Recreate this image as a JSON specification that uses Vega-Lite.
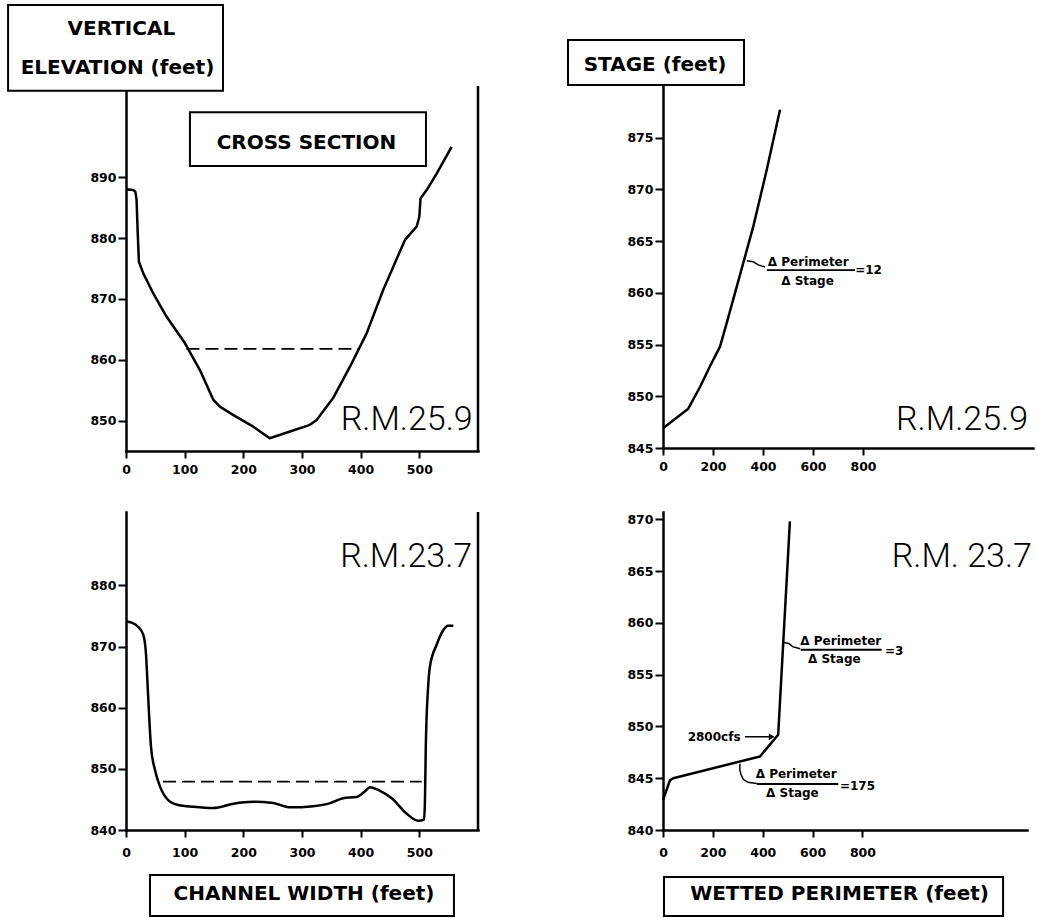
{
  "$schema": "https://vega.github.io/schema/vega-lite/v6.json",
  "background": "white",
  "autosize": {"type": "pad"},
  "padding": {"left": 7, "top": 4, "right": 2, "bottom": 0},
  "config": {
    "view": {"stroke": null},
    "mark": {"color": "black"},
    "axis": {
      "domainColor": "black", "domainWidth": 2.5, "domainCap": "square",
      "tickColor": "black", "tickWidth": 2, "tickSize": 7,
      "labelColor": "black", "labelFont": "DejaVu Sans", "labelFontWeight": "bold", "labelFontSize": 12.5,
      "labelFlush": false, "labelOverlap": false, "grid": false, "zindex": 0
    },
    "axisY": {"tickSize": 8, "labelPadding": 2}
  },
  "datasets": {
    "section_rm259": [
      {"width_ft": 0, "elev_ft": 887.9}, {"width_ft": 4, "elev_ft": 888.0}, {"width_ft": 12.5, "elev_ft": 887.9},
      {"width_ft": 16, "elev_ft": 887.6}, {"width_ft": 18, "elev_ft": 886.3}, {"width_ft": 20, "elev_ft": 880.8},
      {"width_ft": 22, "elev_ft": 876.1}, {"width_ft": 29.5, "elev_ft": 874.2}, {"width_ft": 46.5, "elev_ft": 870.9},
      {"width_ft": 69, "elev_ft": 867.1}, {"width_ft": 100.6, "elev_ft": 862.7}, {"width_ft": 126, "elev_ft": 858.3},
      {"width_ft": 149, "elev_ft": 853.4}, {"width_ft": 160, "elev_ft": 852.3}, {"width_ft": 183, "elev_ft": 850.9},
      {"width_ft": 217, "elev_ft": 849.0}, {"width_ft": 245, "elev_ft": 847.1}, {"width_ft": 279.5, "elev_ft": 848.2},
      {"width_ft": 313.6, "elev_ft": 849.3}, {"width_ft": 325, "elev_ft": 850.1}, {"width_ft": 353, "elev_ft": 853.7},
      {"width_ft": 382, "elev_ft": 858.9}, {"width_ft": 410, "elev_ft": 864.3}, {"width_ft": 438.5, "elev_ft": 871.5},
      {"width_ft": 455.6, "elev_ft": 875.3}, {"width_ft": 475.5, "elev_ft": 879.7}, {"width_ft": 495.5, "elev_ft": 881.9},
      {"width_ft": 500, "elev_ft": 883.5}, {"width_ft": 502, "elev_ft": 886.5}, {"width_ft": 512.5, "elev_ft": 887.9},
      {"width_ft": 529.5, "elev_ft": 890.6}, {"width_ft": 555, "elev_ft": 895.0}
    ],
    "rating_rm259": [
      {"perimeter_ft": 0, "stage_ft": 846.9}, {"perimeter_ft": 101, "stage_ft": 848.8}, {"perimeter_ft": 148, "stage_ft": 850.9},
      {"perimeter_ft": 188, "stage_ft": 852.9}, {"perimeter_ft": 228, "stage_ft": 854.8}, {"perimeter_ft": 255, "stage_ft": 857.1},
      {"perimeter_ft": 295, "stage_ft": 860.6}, {"perimeter_ft": 361, "stage_ft": 866.4}, {"perimeter_ft": 415, "stage_ft": 871.9},
      {"perimeter_ft": 468, "stage_ft": 877.7}
    ],
    "section_rm237": [
      {"width_ft": 0, "elev_ft": 874.1}, {"width_ft": 9.7, "elev_ft": 873.9}, {"width_ft": 21, "elev_ft": 873.2},
      {"width_ft": 29.5, "elev_ft": 871.9}, {"width_ft": 34, "elev_ft": 868.9}, {"width_ft": 36.4, "elev_ft": 864.5},
      {"width_ft": 39.2, "elev_ft": 859.1}, {"width_ft": 42.6, "elev_ft": 853.6}, {"width_ft": 49.4, "elev_ft": 849.8},
      {"width_ft": 58, "elev_ft": 847.1}, {"width_ft": 72, "elev_ft": 844.9}, {"width_ft": 89, "elev_ft": 844.1},
      {"width_ft": 115, "elev_ft": 843.8}, {"width_ft": 149, "elev_ft": 843.6}, {"width_ft": 183, "elev_ft": 844.3},
      {"width_ft": 217, "elev_ft": 844.6}, {"width_ft": 251, "elev_ft": 844.4}, {"width_ft": 279.5, "elev_ft": 843.7},
      {"width_ft": 319, "elev_ft": 843.9}, {"width_ft": 348, "elev_ft": 844.4}, {"width_ft": 370, "elev_ft": 845.2},
      {"width_ft": 393, "elev_ft": 845.4}, {"width_ft": 407, "elev_ft": 846.3}, {"width_ft": 416, "elev_ft": 847.0},
      {"width_ft": 433, "elev_ft": 846.4}, {"width_ft": 453, "elev_ft": 845.2}, {"width_ft": 478, "elev_ft": 842.7},
      {"width_ft": 498, "elev_ft": 841.5}, {"width_ft": 508, "elev_ft": 841.7}, {"width_ft": 509.6, "elev_ft": 844.9},
      {"width_ft": 511, "elev_ft": 853.6}, {"width_ft": 515, "elev_ft": 863.4}, {"width_ft": 518, "elev_ft": 866.7},
      {"width_ft": 529.5, "elev_ft": 870.3}, {"width_ft": 541, "elev_ft": 872.7}, {"width_ft": 549, "elev_ft": 873.4},
      {"width_ft": 558, "elev_ft": 873.4}
    ],
    "rating_rm237": [
      {"perimeter_ft": 0, "stage_ft": 842.9}, {"perimeter_ft": 28, "stage_ft": 844.8}, {"perimeter_ft": 41, "stage_ft": 845.0},
      {"perimeter_ft": 389, "stage_ft": 847.1}, {"perimeter_ft": 462, "stage_ft": 849.2}, {"perimeter_ft": 509, "stage_ft": 869.8}
    ]
  },
  "columns": 2,
  "spacing": {"row": 61, "column": 185},
  "bounds": "flush",
  "align": "each",
  "concat": [
    {
      "width": 352,
      "height": 365,
      "encoding": {
        "x": {"field": "width_ft", "type": "quantitative", "title": null,
              "scale": {"domain": [0, 600], "nice": false, "zero": false},
              "axis": {"values": [0, 100, 200, 300, 400, 500], "labelPadding": 5}},
        "y": {"field": "elev_ft", "type": "quantitative", "title": null,
              "scale": {"domain": [845, 905], "nice": false, "zero": false},
              "axis": {"values": [850, 860, 870, 880, 890]}}
      },
      "layer": [
        {"data": {"values": [{"width_ft": 600, "elev_ft": 845, "elev_ft2": 905}]},
         "mark": {"type": "rule", "strokeWidth": 2.5},
         "encoding": {"y2": {"field": "elev_ft2"}}},
        {"data": {"name": "section_rm259"},
         "mark": {"type": "line", "strokeWidth": 2.5, "strokeJoin": "round"},
         "encoding": {"order": {"value": null}}},
        {"data": {"values": [{"width_ft": 103, "width_ft2": 396, "elev_ft": 861.8}]},
         "mark": {"type": "rule", "strokeWidth": 1.8, "strokeDash": [13, 6]},
         "encoding": {"x2": {"field": "width_ft2"}}},
        {"data": {"values": [
           {"width_ft": -201, "width_ft2": 165.3, "elev_ft": 918.3, "elev_ft2": 904.2},
           {"width_ft": 109, "width_ft2": 511.3, "elev_ft": 900.7, "elev_ft2": 891.85}]},
         "mark": {"type": "rect", "fill": "white", "stroke": "black", "strokeWidth": 2},
         "encoding": {"x2": {"field": "width_ft2"}, "y2": {"field": "elev_ft2"}}},
        {"data": {"values": [
           {"label": "VERTICAL", "width_ft": -8, "elev_ft": 914.4},
           {"label": "ELEVATION (feet)", "width_ft": -14.5, "elev_ft": 908.0},
           {"label": "CROSS  SECTION", "width_ft": 307.6, "elev_ft": 895.6}]},
         "mark": {"type": "text", "font": "DejaVu Sans", "fontWeight": "bold", "fontSize": 20, "align": "center", "baseline": "middle"},
         "encoding": {"text": {"field": "label"}}},
        {"data": {"values": [{"label": "R.M.25.9", "width_ft": 591, "elev_ft": 848.45}]},
         "mark": {"type": "text", "font": "Roboto", "fontWeight": 300, "fontSize": 34, "align": "right", "baseline": "alphabetic"},
         "encoding": {"text": {"field": "label"}}}
      ]
    },
    {
      "width": 370,
      "height": 362,
      "encoding": {
        "x": {"field": "perimeter_ft", "type": "quantitative", "title": null,
              "scale": {"domain": [0, 1480], "nice": false, "zero": false},
              "axis": {"values": [0, 200, 400, 600, 800], "labelPadding": 5}},
        "y": {"field": "stage_ft", "type": "quantitative", "title": null,
              "scale": {"domain": [845, 880], "nice": false, "zero": false},
              "axis": {"values": [845, 850, 855, 860, 865, 870, 875]}}
      },
      "layer": [
        {"data": {"name": "rating_rm259"},
         "mark": {"type": "line", "strokeWidth": 2.5, "strokeJoin": "round"},
         "encoding": {"order": {"value": null}}},
        {"data": {"values": [
           {"seg": "slope12", "perimeter_ft": 335, "stage_ft": 863.1},
           {"seg": "slope12", "perimeter_ft": 361, "stage_ft": 863.0},
           {"seg": "slope12", "perimeter_ft": 381, "stage_ft": 862.7},
           {"seg": "slope12", "perimeter_ft": 408, "stage_ft": 862.5}]},
         "mark": {"type": "line", "strokeWidth": 1.5},
         "encoding": {"detail": {"field": "seg"}, "order": {"value": null}}},
        {"data": {"values": [{"perimeter_ft": 415, "perimeter_ft2": 768, "stage_ft": 862.2}]},
         "mark": {"type": "rule", "strokeWidth": 1.8},
         "encoding": {"x2": {"field": "perimeter_ft2"}}},
        {"data": {"values": [
           {"label": "Δ Perimeter", "perimeter_ft": 581, "stage_ft": 863.0},
           {"label": "Δ Stage", "perimeter_ft": 578, "stage_ft": 861.15},
           {"label": "=12", "perimeter_ft": 822, "stage_ft": 862.2}]},
         "mark": {"type": "text", "font": "DejaVu Sans", "fontWeight": "bold", "fontSize": 12, "align": "center", "baseline": "middle"},
         "encoding": {"text": {"field": "label"}}},
        {"data": {"values": [{"perimeter_ft": -380, "perimeter_ft2": 324, "stage_ft": 884.45, "stage_ft2": 880.1}]},
         "mark": {"type": "rect", "fill": "white", "stroke": "black", "strokeWidth": 2},
         "encoding": {"x2": {"field": "perimeter_ft2"}, "y2": {"field": "stage_ft2"}}},
        {"data": {"values": [{"label": "STAGE (feet)", "perimeter_ft": -32, "stage_ft": 882.0}]},
         "mark": {"type": "text", "font": "DejaVu Sans", "fontWeight": "bold", "fontSize": 20, "align": "center", "baseline": "middle"},
         "encoding": {"text": {"field": "label"}}},
        {"data": {"values": [{"label": "R.M.25.9", "perimeter_ft": 1460, "stage_ft": 846.74}]},
         "mark": {"type": "text", "font": "Roboto", "fontWeight": 300, "fontSize": 34, "align": "right", "baseline": "alphabetic"},
         "encoding": {"text": {"field": "label"}}}
      ]
    },
    {
      "width": 352,
      "height": 318,
      "encoding": {
        "x": {"field": "width_ft", "type": "quantitative", "title": null,
              "scale": {"domain": [0, 600], "nice": false, "zero": false},
              "axis": {"values": [0, 100, 200, 300, 400, 500], "labelPadding": 9}},
        "y": {"field": "elev_ft", "type": "quantitative", "title": null,
              "scale": {"domain": [840, 892], "nice": false, "zero": false},
              "axis": {"values": [840, 850, 860, 870, 880]}}
      },
      "layer": [
        {"data": {"values": [{"width_ft": 600, "elev_ft": 840, "elev_ft2": 892}]},
         "mark": {"type": "rule", "strokeWidth": 2.5},
         "encoding": {"y2": {"field": "elev_ft2"}}},
        {"data": {"name": "section_rm237"},
         "mark": {"type": "line", "strokeWidth": 2.5, "strokeJoin": "round", "interpolate": "monotone"},
         "encoding": {"order": {"value": null}}},
        {"data": {"values": [{"width_ft": 63, "width_ft2": 504, "elev_ft": 847.9}]},
         "mark": {"type": "rule", "strokeWidth": 1.8, "strokeDash": [13, 6]},
         "encoding": {"x2": {"field": "width_ft2"}}},
        {"data": {"values": [{"width_ft": 40.9, "width_ft2": 559, "elev_ft": 832.64, "elev_ft2": 825.94}]},
         "mark": {"type": "rect", "fill": "white", "stroke": "black", "strokeWidth": 2},
         "encoding": {"x2": {"field": "width_ft2"}, "y2": {"field": "elev_ft2"}}},
        {"data": {"values": [{"label": "CHANNEL  WIDTH (feet)", "width_ft": 303.4, "elev_ft": 829.53}]},
         "mark": {"type": "text", "font": "DejaVu Sans", "fontWeight": "bold", "fontSize": 20, "align": "center", "baseline": "middle"},
         "encoding": {"text": {"field": "label"}}},
        {"data": {"values": [{"label": "R.M.23.7", "width_ft": 590, "elev_ft": 883.0}]},
         "mark": {"type": "text", "font": "Roboto", "fontWeight": 300, "fontSize": 34, "align": "right", "baseline": "alphabetic"},
         "encoding": {"text": {"field": "label"}}}
      ]
    },
    {
      "width": 364,
      "height": 318,
      "encoding": {
        "x": {"field": "perimeter_ft", "type": "quantitative", "title": null,
              "scale": {"domain": [0, 1460], "nice": false, "zero": false},
              "axis": {"values": [0, 200, 400, 600, 800], "labelPadding": 9}},
        "y": {"field": "stage_ft", "type": "quantitative", "title": null,
              "scale": {"domain": [840, 870.7], "nice": false, "zero": false},
              "axis": {"values": [840, 845, 850, 855, 860, 865, 870]}}
      },
      "layer": [
        {"data": {"name": "rating_rm237"},
         "mark": {"type": "line", "strokeWidth": 2.5, "strokeJoin": "round"},
         "encoding": {"order": {"value": null}}},
        {"data": {"values": [
           {"seg": "slope3", "perimeter_ft": 485, "stage_ft": 858.1},
           {"seg": "slope3", "perimeter_ft": 505, "stage_ft": 858.0},
           {"seg": "slope3", "perimeter_ft": 520, "stage_ft": 857.7},
           {"seg": "slope3", "perimeter_ft": 550, "stage_ft": 857.5},
           {"seg": "slope175", "perimeter_ft": 309, "stage_ft": 846.4},
           {"seg": "slope175", "perimeter_ft": 308, "stage_ft": 845.9},
           {"seg": "slope175", "perimeter_ft": 312, "stage_ft": 845.4},
           {"seg": "slope175", "perimeter_ft": 322, "stage_ft": 844.9},
           {"seg": "slope175", "perimeter_ft": 340, "stage_ft": 844.6},
           {"seg": "slope175", "perimeter_ft": 376, "stage_ft": 844.5},
           {"seg": "cfs2800", "perimeter_ft": 329, "stage_ft": 849.0},
           {"seg": "cfs2800", "perimeter_ft": 429, "stage_ft": 849.0}]},
         "mark": {"type": "line", "strokeWidth": 1.5},
         "encoding": {"detail": {"field": "seg"}, "order": {"value": null}}},
        {"data": {"values": [{"perimeter_ft": 436, "stage_ft": 849.0}]},
         "mark": {"type": "point", "shape": "triangle-right", "filled": true, "size": 45, "opacity": 1}},
        {"data": {"values": [
           {"perimeter_ft": 552, "perimeter_ft2": 877, "stage_ft": 857.4},
           {"perimeter_ft": 376, "perimeter_ft2": 703, "stage_ft": 844.44}]},
         "mark": {"type": "rule", "strokeWidth": 1.8},
         "encoding": {"x2": {"field": "perimeter_ft2"}}},
        {"data": {"values": [
           {"label": "Δ Perimeter", "perimeter_ft": 713, "stage_ft": 858.2},
           {"label": "Δ Stage", "perimeter_ft": 687, "stage_ft": 856.5},
           {"label": "=3", "perimeter_ft": 927, "stage_ft": 857.3},
           {"label": "Δ Perimeter", "perimeter_ft": 534, "stage_ft": 845.4},
           {"label": "Δ Stage", "perimeter_ft": 519, "stage_ft": 843.54},
           {"label": "=175", "perimeter_ft": 780, "stage_ft": 844.28},
           {"label": "2800cfs", "perimeter_ft": 205, "stage_ft": 849.0}]},
         "mark": {"type": "text", "font": "DejaVu Sans", "fontWeight": "bold", "fontSize": 12, "align": "center", "baseline": "middle"},
         "encoding": {"text": {"field": "label"}}},
        {"data": {"values": [{"perimeter_ft": 4, "perimeter_ft2": 1364, "stage_ft": 835.46, "stage_ft2": 831.7}]},
         "mark": {"type": "rect", "fill": "white", "stroke": "black", "strokeWidth": 2},
         "encoding": {"x2": {"field": "perimeter_ft2"}, "y2": {"field": "stage_ft2"}}},
        {"data": {"values": [{"label": "WETTED  PERIMETER (feet)", "perimeter_ft": 708, "stage_ft": 833.82}]},
         "mark": {"type": "text", "font": "DejaVu Sans", "fontWeight": "bold", "fontSize": 20, "align": "center", "baseline": "middle"},
         "encoding": {"text": {"field": "label"}}},
        {"data": {"values": [{"label": "R.M. 23.7", "perimeter_ft": 1480, "stage_ft": 865.4}]},
         "mark": {"type": "text", "font": "Roboto", "fontWeight": 300, "fontSize": 34, "align": "right", "baseline": "alphabetic"},
         "encoding": {"text": {"field": "label"}}}
      ]
    }
  ]
}
